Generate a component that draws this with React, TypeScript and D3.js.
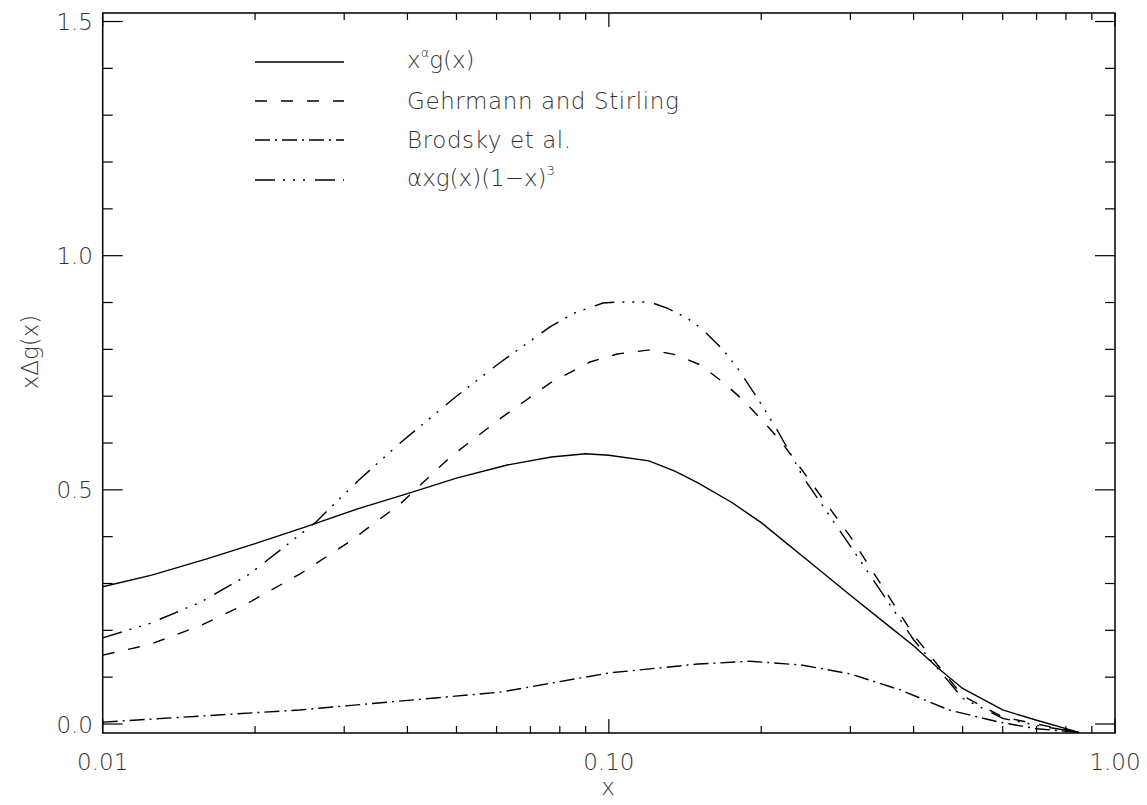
import React from "react";
import * as d3 from "d3";

const W = 1147;
const H = 805;

// ---- data ----
const solidX = [0.01, 0.0125, 0.016, 0.02, 0.025, 0.032, 0.04, 0.05, 0.063, 0.077, 0.09, 0.1, 0.12, 0.135, 0.15, 0.175, 0.2, 0.25, 0.3, 0.35, 0.4, 0.45, 0.5, 0.6, 0.7, 0.8, 0.85];
const solidY = [0.293, 0.318, 0.352, 0.385, 0.42, 0.46, 0.492, 0.525, 0.553, 0.57, 0.577, 0.574, 0.562, 0.54, 0.515, 0.473, 0.43, 0.345, 0.275, 0.217, 0.167, 0.117, 0.076, 0.03, 0.008, -0.01, -0.018];

const gsX = [0.01, 0.0124, 0.0156, 0.0195, 0.0245, 0.0308, 0.0387, 0.0486, 0.061, 0.0765, 0.0918, 0.1039, 0.1206, 0.1363, 0.1514, 0.168, 0.184, 0.199, 0.218, 0.2353, 0.3, 0.4, 0.5, 0.6, 0.7, 0.85];
const gsY = [0.147, 0.17, 0.21, 0.26, 0.32, 0.39, 0.47, 0.57, 0.652, 0.728, 0.773, 0.79, 0.799, 0.788, 0.767, 0.73, 0.692, 0.653, 0.606, 0.557, 0.4, 0.19, 0.06, 0.015, 0.0, -0.018];

const brX = [0.01, 0.0245, 0.061, 0.1, 0.15, 0.19, 0.24, 0.3, 0.376, 0.47, 0.59, 0.7, 0.85];
const brY = [0.004, 0.03, 0.068, 0.109, 0.128, 0.134, 0.126, 0.107, 0.073, 0.03, 0.004, -0.01, -0.018];

const agX = [0.01, 0.0124, 0.0156, 0.0195, 0.0263, 0.032, 0.0387, 0.05, 0.061, 0.0765, 0.0857, 0.0974, 0.1039, 0.1206, 0.1303, 0.1427, 0.1534, 0.168, 0.179, 0.19, 0.2017, 0.215, 0.228, 0.242, 0.3, 0.4, 0.5, 0.6, 0.7, 0.85];
const agY = [0.184, 0.215, 0.26, 0.32, 0.43, 0.52, 0.6, 0.7, 0.772, 0.848, 0.878, 0.899, 0.901, 0.901, 0.888, 0.867, 0.842, 0.799, 0.762, 0.72, 0.677, 0.628, 0.579, 0.527, 0.38, 0.18, 0.055, 0.012, -0.003, -0.018];

const xMajorTicks = [0.01, 0.1, 1];
const xMajorLabels = ["0.01", "0.10", "1.00"];
const xMinorTicks = [0.02, 0.03, 0.04, 0.05, 0.06, 0.07, 0.08, 0.09, 0.2, 0.3, 0.4, 0.5, 0.6, 0.7, 0.8, 0.9];
const yMajorTicks = [0, 0.5, 1.0, 1.5];
const yMajorLabels = ["0.0", "0.5", "1.0", "1.5"];
const yMinorTicks = [0.1, 0.2, 0.3, 0.4, 0.6, 0.7, 0.8, 0.9, 1.1, 1.2, 1.3, 1.4];

const seriesNames = ["x^a g(x)", "Gehrmann and Stirling", "Brodsky et al.", "a x g(x)(1-x)^3"];

// ---- layout ----
const L = 102.7, R = 1115, T = 13, B = 733;
const x = d3.scaleLog().domain([0.01, 1]).range([L, R]);
const y = d3.scaleLinear().domain([-0.0192, 1.5182]).range([B, T]);

const FONT = "'DejaVu Sans', sans-serif";
const TXT = "#333";

const dashes = ["none", "12,14", "15,5,2,5", "20,8,2,8,2,8,2,10"];

function pathOf(xs: number[], ys: number[]) {
  const line = d3
    .line<number>()
    .x((_, i) => x(xs[i]))
    .y((_, i) => y(ys[i]))
    .curve(d3.curveLinear);
  return line(xs) || "";
}

export default function App() {
  const series = [
    { xs: solidX, ys: solidY },
    { xs: gsX, ys: gsY },
    { xs: brX, ys: brY },
    { xs: agX, ys: agY },
  ];
  const legendY = [62, 101, 140, 180];
  return (
    <svg width={W} height={H} style={{ position: "absolute", left: 0, top: 0, background: "#fff" }}>
      <rect x={0} y={0} width={W} height={H} fill="#fff" />
      <g fontFamily={FONT} fontWeight={200} fill={TXT}>
        {/* curves */}
        {series.map((s, i) => (
          <path
            key={i}
            d={pathOf(s.xs, s.ys)}
            fill="none"
            stroke="#000"
            strokeWidth={1.4}
            strokeDasharray={dashes[i]}
          />
        ))}
        {/* frame */}
        <rect x={L} y={T} width={R - L} height={B - T} fill="none" stroke="#000" strokeWidth={1.5} />
        {/* x ticks */}
        {xMajorTicks.map((t, i) => (
          <g key={"xm" + i}>
            <line x1={x(t)} x2={x(t)} y1={B} y2={B - 14} stroke="#000" strokeWidth={1.2} />
            <line x1={x(t)} x2={x(t)} y1={T} y2={T + 14} stroke="#000" strokeWidth={1.2} />
            <text x={x(t)} y={770} textAnchor="middle" fontSize={23}>
              {xMajorLabels[i]}
            </text>
          </g>
        ))}
        {xMinorTicks.map((t, i) => (
          <g key={"xn" + i}>
            <line x1={x(t)} x2={x(t)} y1={B} y2={B - 7} stroke="#000" strokeWidth={1.2} />
            <line x1={x(t)} x2={x(t)} y1={T} y2={T + 7} stroke="#000" strokeWidth={1.2} />
          </g>
        ))}
        {/* y ticks */}
        {yMajorTicks.map((t, i) => (
          <g key={"ym" + i}>
            <line x1={L} x2={L + 20} y1={y(t)} y2={y(t)} stroke="#000" strokeWidth={1.2} />
            <line x1={R} x2={R - 20} y1={y(t)} y2={y(t)} stroke="#000" strokeWidth={1.2} />
            <text x={93} y={y(t) + 8.5} textAnchor="end" fontSize={23}>
              {yMajorLabels[i]}
            </text>
          </g>
        ))}
        {yMinorTicks.map((t, i) => (
          <g key={"yn" + i}>
            <line x1={L} x2={L + 10} y1={y(t)} y2={y(t)} stroke="#000" strokeWidth={1.2} />
            <line x1={R} x2={R - 10} y1={y(t)} y2={y(t)} stroke="#000" strokeWidth={1.2} />
          </g>
        ))}
        {/* axis titles */}
        <text x={608} y={795} textAnchor="middle" fontSize={23}>
          x
        </text>
        <text transform="translate(38,352) rotate(-90)" textAnchor="middle" fontSize={23}>
          xΔg(x)
        </text>
        {/* legend */}
        {seriesNames.map((n, i) => (
          <line
            key={"lg" + i}
            x1={255}
            x2={344}
            y1={legendY[i]}
            y2={legendY[i]}
            stroke="#000"
            strokeWidth={1.4}
            strokeDasharray={dashes[i]}
          />
        ))}
        <text x={407} y={legendY[0] + 6} fontSize={23}>
          x<tspan fontSize={13} dy={-11}>α</tspan>
          <tspan dy={11}>g(x)</tspan>
        </text>
        <text x={407} y={legendY[1] + 8} fontSize={23} letterSpacing={0.6}>
          {seriesNames[1]}
        </text>
        <text x={407} y={legendY[2] + 8} fontSize={23} letterSpacing={0.6}>
          {seriesNames[2]}
        </text>
        <text x={407} y={legendY[3] + 6} fontSize={23}>
          αxg(x)(1−x)<tspan fontSize={13} dy={-11}>3</tspan>
        </text>
      </g>
    </svg>
  );
}
